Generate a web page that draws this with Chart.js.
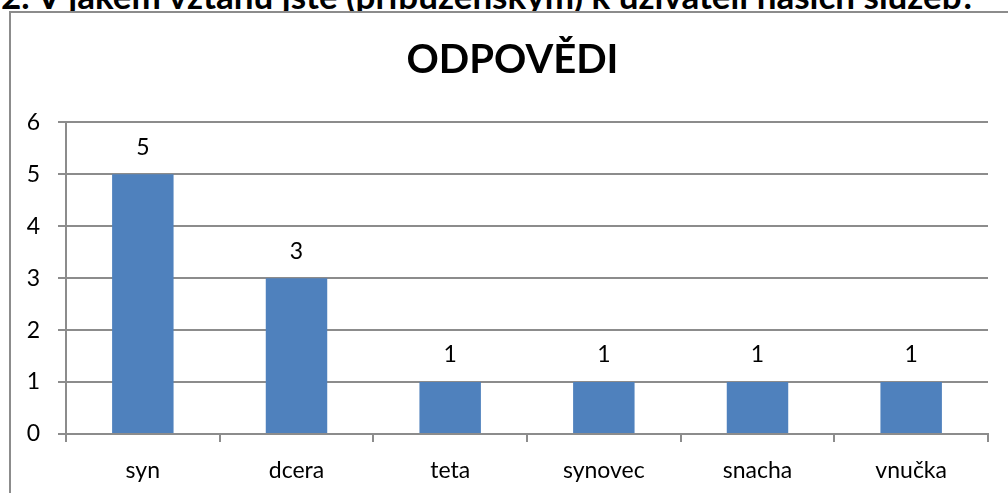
<!DOCTYPE html>
<html>
<head>
<meta charset="utf-8">
<script src="https://cdn.jsdelivr.net/npm/chart.js@4"></script>
<style>
	body { margin: 0; background: #fff; overflow: hidden; font-family: Lato, sans-serif; }
	#heading { position: absolute; left: 1px; top: -22px; margin: 0; font-size: 35px; line-height: 1; font-weight: bold; white-space: nowrap; color: #000; }
	#box { position: absolute; left: 9px; top: 11px; width: 1020px; height: 500px; border: 2px solid #8c8c8c; background: #fff; }
	#chartWrap { position: absolute; left: 0; top: 0; width: 994px; height: 482px; }
</style>
</head>
<body>
<h2 id="heading">2. V jakém vztahu jste (příbuzenským) k uživateli našich služeb?</h2>
<div id="box"><div id="chartWrap"><canvas id="chart"></canvas></div></div>
<script>
	var categories = ['syn', 'dcera', 'teta', 'synovec', 'snacha', 'vnučka'];
	var answers = [5, 3, 1, 1, 1, 1];
	var yTicks = [0, 1, 2, 3, 4, 5, 6];
	var chartTitle = 'ODPOVĚDI';

	var fontFamily = 'Lato, sans-serif';

	// draw value labels above each bar
	var barLabels = {
		id: 'barLabels',
		afterLayout: function (chart) {
			// title sits a bit right of the plot centre, like in the original
			if (chart.titleBlock) chart.titleBlock.left += 26;
		},
		afterDatasetsDraw: function (chart) {
			var ctx = chart.ctx;
			var meta = chart.getDatasetMeta(0);
			ctx.save();
			ctx.fillStyle = '#000';
			ctx.font = '23px ' + fontFamily;
			ctx.textAlign = 'center';
			ctx.textBaseline = 'middle';
			meta.data.forEach(function (bar, i) {
				ctx.fillText(answers[i], bar.x, bar.y - 27);
			});
			ctx.restore();
		}
	};

	var ctx = document.getElementById('chart').getContext('2d');
	new Chart(ctx, {
		type: 'bar',
		data: {
			labels: categories,
			datasets: [
				{
					label: chartTitle,
					data: answers,
					backgroundColor: '#4f81bd',
					borderWidth: 0,
					barPercentage: 0.4,
					categoryPercentage: 1,
				},
			],
		},
		options: {
			responsive: true,
			maintainAspectRatio: false,
			animation: false,
			layout: { padding: { left: 0, right: 17, top: 5, bottom: 0 } },
			plugins: {
				legend: { display: false },
				tooltip: { enabled: false },
				title: {
					display: true,
					text: chartTitle,
					color: '#000',
					font: { family: fontFamily, size: 40, weight: 'bold', lineHeight: 1.2 },
					padding: { top: 18, bottom: 38.4 },
				},
			},
			scales: {
				x: {
					afterFit: function (axis) { axis.height = 61; },
					grid: {
						offset: true,
						drawOnChartArea: false,
						color: '#8c8c8c',
						lineWidth: 2,
						tickLength: 8,
					},
					border: { color: '#8c8c8c', width: 2 },
					ticks: {
						color: '#000',
						font: { family: fontFamily, size: 23 },
						padding: 15,
					},
				},
				y: {
					min: 0,
					max: 6,
					afterFit: function (axis) { axis.width = 55; },
					afterBuildTicks: function (axis) {
						axis.ticks = yTicks.map(function (v) { return { value: v }; });
					},
					grid: {
						color: '#8c8c8c',
						lineWidth: 2,
						tickLength: 8,
					},
					border: { color: '#8c8c8c', width: 2 },
					ticks: {
						color: '#000',
						font: { family: fontFamily, size: 23 },
						padding: 18,
					},
				},
			},
		},
		plugins: [barLabels],
	});
</script>
</body>
</html>
